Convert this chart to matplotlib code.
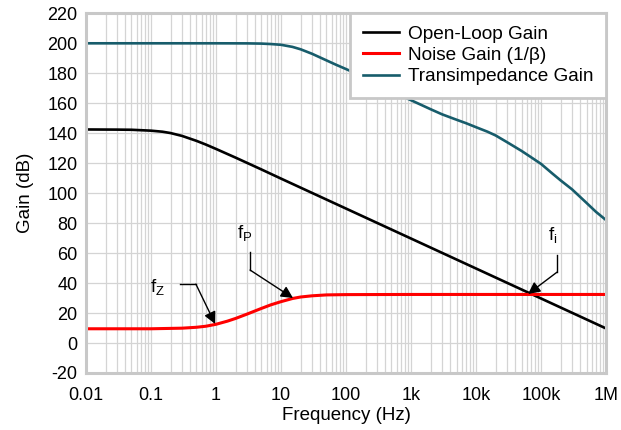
import matplotlib
matplotlib.use('Agg')
import matplotlib.pyplot as plt
from matplotlib.ticker import LogLocator, NullFormatter

plt.rcParams['font.family'] = ['Liberation Sans', 'DejaVu Sans']
plt.rcParams['mathtext.fontset'] = 'custom'
plt.rcParams['mathtext.rm'] = 'Liberation Sans'
plt.rcParams['mathtext.it'] = 'Liberation Sans'
plt.rcParams['axes.unicode_minus'] = False

# values
ol_freq = [0.01, 0.03, 0.05, 0.1, 0.15, 0.2, 0.3, 0.5, 0.7, 1, 2, 5, 10,
           100, 1e3, 1e4, 1e5, 1e6]
ol_gain = [142.5, 142.4, 142.3, 141.7, 141.0, 140.1, 138.2, 134.9, 132.4,
           129.5, 123.7, 115.8, 109.7, 89.7, 69.7, 49.7, 29.7, 9.7]

ng_freq = [0.01, 0.1, 0.3, 0.5, 0.7, 1, 1.5, 2, 3, 5, 7, 10, 15, 20, 30,
           50, 100, 1e3, 1e6]
ng_gain = [9.5, 9.5, 9.9, 10.5, 11.2, 12.5, 14.6, 16.4, 19.3, 23.1, 25.5,
           27.6, 29.7, 30.7, 31.5, 32.1, 32.3, 32.4, 32.4]

tz_freq = [0.01, 1, 3, 5, 7, 10, 15, 20, 30, 50, 70, 100, 200, 500, 1e3,
           1.5e3, 2e3, 3e3, 5e3, 7e3, 1e4, 1.5e4, 2e4, 3e4, 5e4, 7e4, 1e5,
           1.5e5, 2e5, 3e5, 5e5, 7e5, 1e6]
tz_gain = [200, 200, 199.95, 199.8, 199.5, 199, 197.6, 196, 193, 188.6,
           185.7, 182.8, 177, 168, 162, 158.5, 156, 152.6, 149, 146.7, 144,
           141, 138.5, 134, 128.2, 124, 119.5, 113, 108.5, 102.5, 93.5,
           87.5, 82]

x_ticks = [0.01, 0.1, 1, 10, 100, 1e3, 1e4, 1e5, 1e6]
x_labels = ['0.01', '0.1', '1', '10', '100', '1k', '10k', '100k', '1M']
y_ticks = list(range(-20, 221, 20))

fig = plt.figure(figsize=(6.21, 4.30), dpi=100)
ax = fig.add_axes([0.1385, 0.1326, 0.8375, 0.8364])

ax.plot(ol_freq, ol_gain, color='black', lw=1.9, label='Open-Loop Gain')
ax.plot(ng_freq, ng_gain, color='#FF0000', lw=2.2, label='Noise Gain (1/\u03b2)')
ax.plot(tz_freq, tz_gain, color='#175C6B', lw=1.9, label='Transimpedance Gain')

ax.set_xscale('log')
ax.set_xlim(0.01, 1e6)
ax.set_ylim(-20, 220)
ax.set_xticks(x_ticks)
ax.set_xticklabels(x_labels)
ax.xaxis.set_minor_locator(LogLocator(base=10, subs=range(2, 10), numticks=100))
ax.xaxis.set_minor_formatter(NullFormatter())
ax.set_yticks(y_ticks)
ax.tick_params(which='both', length=0, labelsize=13)
ax.tick_params(axis='x', pad=10)
ax.tick_params(axis='y', pad=6)
ax.grid(True, which='both', color='#d4d4d4', lw=0.9)
ax.set_axisbelow(True)
for s in ax.spines.values():
    s.set_color('#c8c8c8')
    s.set_linewidth(2.2)

ax.set_xlabel('Frequency (Hz)', fontsize=13.5, labelpad=2)
ax.set_ylabel('Gain (dB)', fontsize=13.5, labelpad=10)

leg = ax.legend(loc='upper right', borderaxespad=0, fancybox=False,
                framealpha=1, edgecolor='#c8c8c8', fontsize=13.7,
                handlelength=1.9, handletextpad=0.5, labelspacing=0.2,
                borderpad=0.65)
leg.get_frame().set_linewidth(2)

# annotation callouts
arrow = dict(arrowstyle='-|>', color='black', lw=1, mutation_scale=18,
             shrinkA=0, shrinkB=0)
ax.text(0.097, 37.3, r'f$_\mathregular{Z}$', fontsize=13.5, ha='left', va='center')
ax.plot([0.279, 0.49], [39.3, 39.3], color='black', lw=1)
ax.annotate('', xy=(0.97, 12.7), xytext=(0.49, 39.3), arrowprops=arrow)

ax.text(2.1, 73.3, r'f$_\mathregular{P}$', fontsize=13.5, ha='left', va='center')
ax.plot([3.34, 3.34], [60.7, 48.7], color='black', lw=1)
ax.annotate('', xy=(15.3, 30), xytext=(3.34, 48.7), arrowprops=arrow)

ax.text(1.3e5, 72, r'f$_\mathregular{i}$', fontsize=13.5, ha='left', va='center')
ax.plot([1.76e5, 1.76e5], [58.7, 47.3], color='black', lw=1)
ax.annotate('', xy=(6.3e4, 32.7), xytext=(1.76e5, 47.3), arrowprops=arrow)

fig.savefig('out.png', dpi=100)
